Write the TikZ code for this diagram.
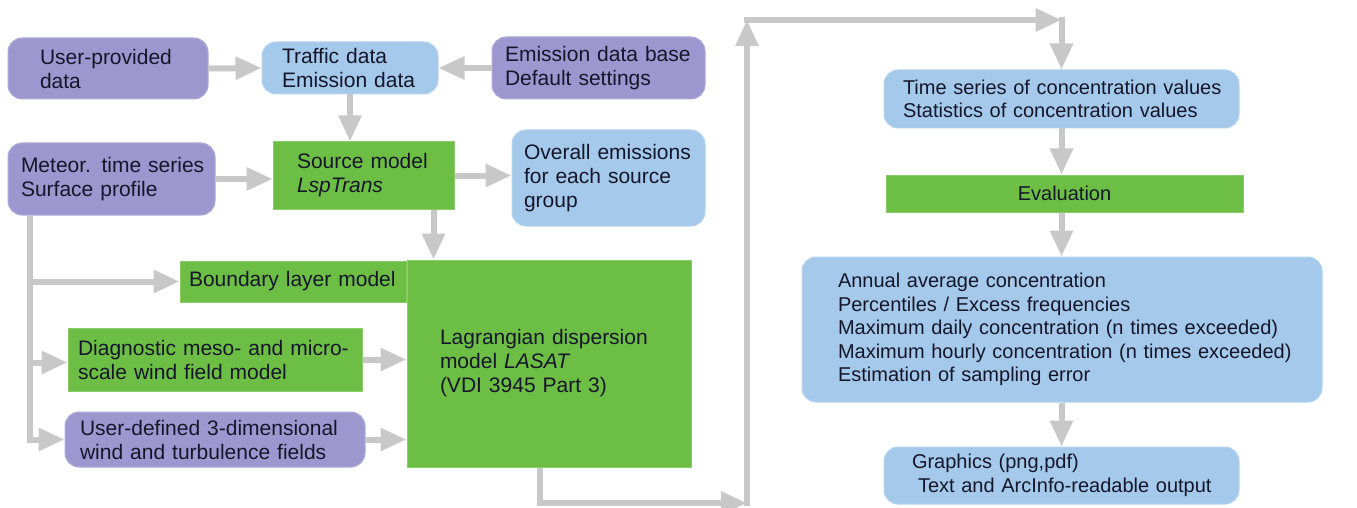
\documentclass[tikz,border=0pt]{standalone}
\usepackage{fontspec}
\setmainfont{Liberation Sans}
\usetikzlibrary{arrows.meta}
\definecolor{purp}{HTML}{9D97CF}
\definecolor{lblue}{HTML}{A4C9EB}
\definecolor{grn}{HTML}{6DBE45}
\definecolor{arrg}{HTML}{C8C8C8}
\definecolor{txt}{HTML}{16162A}
\tikzset{
  bx/.style={inner ysep=0pt, align=left, text=txt, font=\fontsize{21}{24}\selectfont},
  rt/.style={font=\fontsize{20}{23.5}\selectfont},
  pbox/.style={bx, fill=purp, draw=purp!80!white, line width=1pt, rounded corners=14pt},
  bbox/.style={bx, fill=lblue, draw=lblue!80!white, line width=1pt, rounded corners=14pt},
  gbox/.style={bx, fill=grn, draw=grn!80!white, line width=1pt},
  arr/.style={draw=arrg, line width=6pt, -{Triangle[length=26pt,width=22pt]}},
}
\begin{document}
\begin{tikzpicture}[x=1pt,y=-1pt]
\fill[white] (0,0) rectangle (1357,508);
\useasboundingbox (0,0) rectangle (1357,508);

% left part
\node[pbox, minimum height=61pt, inner xsep=32pt, text width=136pt] (up) at (108,68.5)
  {\mbox{User-provided}\\\mbox{data}};
\node[bbox, minimum height=52pt, inner xsep=20pt, text width=136pt] (tr) at (350,68)
  {\mbox{Traffic data}\\\mbox{Emission data}};
\node[pbox, minimum height=62pt, inner xsep=13pt, text width=187pt] (edb) at (598.5,68)
  {\mbox{Emission data base}\\\mbox{Default settings}};
\node[pbox, minimum height=72pt, inner xsep=13pt, text width=181pt] (met) at (111.5,179)
  {\mbox{Meteor. time series}\\\mbox{Surface profile}};
\node[gbox, minimum height=67pt, inner xsep=24pt, text width=133pt] (src) at (363.5,175.5)
  {\mbox{Source model}\\\mbox{\itshape LspTrans}};
\node[bbox, minimum height=96pt, inner xsep=12pt, text width=169pt] (ov) at (608.5,178)
  {\mbox{Overall emissions}\\\mbox{for each source}\\\mbox{group}};
\node[gbox, minimum height=41pt, inner xsep=9pt, text width=208pt] (bl) at (293,281.5)
  {\mbox{Boundary layer model}};
\node[gbox, minimum height=207pt, inner xsep=33pt, text width=218pt] (lag) at (549,363.5)
  {\mbox{Lagrangian dispersion}\\\mbox{model \textit{LASAT}}\\\mbox{(VDI 3945 Part 3)}};
\node[gbox, minimum height=63pt, inner xsep=10pt, text width=274pt] (diag) at (215,359.5)
  {\mbox{Diagnostic meso- and micro-}\\\mbox{scale wind field model}};
\node[pbox, minimum height=55pt, inner xsep=15pt, text width=270pt] (ud) at (215,439.5)
  {\mbox{User-defined 3-dimensional}\\\mbox{wind and turbulence fields}};

% right part
\node[bbox, rt, minimum height=58pt, inner xsep=19pt, text width=317pt] (ts) at (1061.5,99)
  {\mbox{Time series of concentration values}\\\mbox{Statistics of concentration values}};
\node[gbox, rt, minimum height=37pt, inner xsep=0pt, text width=357pt, align=center] (ev) at (1064.5,193.5)
  {Evaluation};
\node[bbox, rt, minimum height=145pt, inner xsep=36pt, text width=448pt] (ann) at (1062,329.5)
  {\mbox{Annual average concentration}\\\mbox{Percentiles / Excess frequencies}\\\mbox{Maximum daily concentration (n times exceeded)}\\\mbox{Maximum hourly concentration (n times exceeded)}\\\mbox{Estimation of sampling error}};
\node[bbox, rt, minimum height=57pt, inner xsep=28pt, text width=299pt] (gr) at (1061.5,475.5)
  {\mbox{Graphics (png,pdf)}\\\mbox{\hspace*{6pt}Text and ArcInfo-readable output}};

% connectors
\draw[arr] (up.east) -- (tr.west);
\draw[arr] (edb.west) -- (tr.east);
\draw[arr] (tr.south) -- (tr.south |- src.north);
\draw[arr] (met.east) -- (met.east -| src.west);
\draw[arr] (src.east) -- (src.east -| ov.west);
\draw[arr] ([xshift=-21pt]src.south east) -- ([xshift=-21pt]src.south east |- lag.north);

\coordinate (mb) at ([xshift=22pt]met.south west);
\draw[arr] (mb) |- (ud.west);
\draw[arr] (mb |- bl.west) -- (bl.west);
\draw[arr] ([yshift=-3pt]mb |- diag.west) -- ([yshift=-3pt]diag.west);
\draw[arr] (diag.east) -- (diag.east -| lag.west);
\draw[arr] (ud.east) -- (ud.east -| lag.west);

\coordinate (lo) at ([xshift=133pt]lag.south west);
\coordinate (c2) at (747,503);
\coordinate (c3) at (747,20);
\coordinate (c4) at (ts.north |- c3);
\draw[arr] (lo) |- (c2);
\draw[arr, shorten <=-3pt] (c2) -- (c3);
\draw[arr, shorten <=-3pt] (c3) -- (c4);
\draw[arr, shorten <=-3pt] (c4) -- (ts.north);

\draw[arr] (ts.south) -- (ts.south |- ev.north);
\draw[arr] (ev.south -| ts.south) -- (ts.south |- ann.north);
\draw[arr] (ann.south -| ts.south) -- (ts.south |- gr.north);
\end{tikzpicture}
\end{document}
